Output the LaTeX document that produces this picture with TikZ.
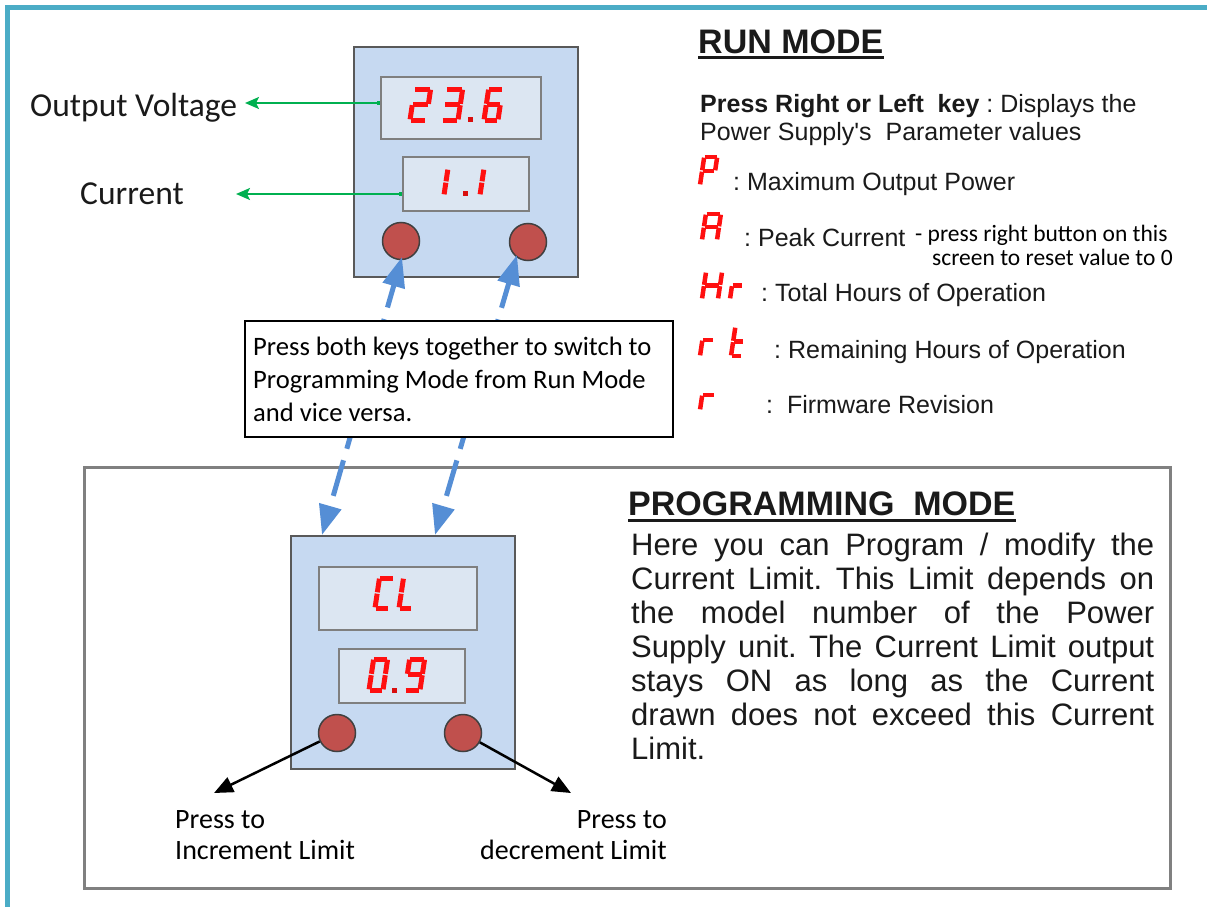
\documentclass[tikz,border=0pt]{standalone}
\usepackage{fontspec}
\usetikzlibrary{arrows.meta}
\newfontfamily\calfont{Carlito}
\newfontfamily\arialfont{Liberation Sans}
\frenchspacing
\definecolor{frameteal}{HTML}{4BACC6}
\definecolor{devfill}{HTML}{C6D9F1}
\definecolor{devdraw}{HTML}{595959}
\definecolor{dispfill}{HTML}{DCE6F2}
\definecolor{dispdraw}{HTML}{7F7F7F}
\definecolor{btnfill}{HTML}{C0504D}
\definecolor{btndraw}{HTML}{404040}
\definecolor{segred}{HTML}{FF1010}
\definecolor{arrgreen}{HTML}{00B050}
\definecolor{arrblue}{HTML}{558ED5}
\definecolor{boxgray}{HTML}{808080}
\definecolor{txt}{HTML}{1A1A1A}
\def\segslant{0.15}
\tikzset{
 seg/a/.code={\draw[segline] (sTL) -- (sTR);},
 seg/b/.code={\draw[segline] (sTR) -- (sMR);},
 seg/c/.code={\draw[segline] (sMR) -- (sBR);},
 seg/d/.code={\draw[segline] (sBL) -- (sBR);},
 seg/e/.code={\draw[segline] (sML) -- (sBL);},
 seg/f/.code={\draw[segline] (sTL) -- (sML);},
 seg/g/.code={\draw[segline] (sML) -- (sMR);},
}
% #1 x of bottom-left, #2 y of bottom, #3 width, #4 height, #5 line width, #6 segments
\newcommand\sevseg[6]{%
 \begin{scope}[shift={(#1,#2)}]
  \tikzset{segline/.style={draw=segred,line width=#5,line cap=butt,shorten <=0.7pt,shorten >=0.7pt}}
  \coordinate (sBL) at (0,0);
  \coordinate (sBR) at (#3,0);
  \coordinate (sML) at ({0.5*\segslant*#4},{-0.5*#4});
  \coordinate (sMR) at ({#3+0.5*\segslant*#4},{-0.5*#4});
  \coordinate (sTL) at ({\segslant*#4},{-#4});
  \coordinate (sTR) at ({#3+\segslant*#4},{-#4});
  \foreach \s in {#6} {\edef\segtmp{\noexpand\tikzset{seg/\s}}\segtmp}
 \end{scope}}
\newcommand\segdot[2]{\fill[segred!85!black] (#1,#2) rectangle ++(5,-5);}
\begin{document}
\begin{tikzpicture}[x=1pt,y=-1pt,
  device/.style={draw=devdraw,fill=devfill,line width=2pt,anchor=north west,inner sep=0pt},
  display/.style={draw=dispdraw,fill=dispfill,line width=1.5pt,anchor=north west,inner sep=0pt},
  button/.style={draw=btndraw,fill=btnfill,line width=1.5pt,circle,inner sep=0pt,minimum size=37pt},
  greenarrow/.style={draw=arrgreen,line width=2pt,{Square[length=3pt,width=4pt]}-{Stealth[length=14pt,width=12pt,inset=3pt]}},
  bluearrow/.style={draw=arrblue,line width=5pt,dash pattern=on 37pt off 12pt,dash phase=37pt,{Triangle[length=30pt,width=22pt]}-{Triangle[length=30pt,width=22pt]}},
  blackarrow/.style={draw=black,line width=2.5pt,-{Triangle[length=19pt,width=16pt]}},
  lbl/.style={inner sep=0pt,anchor=base west,text=txt},
  lble/.style={inner sep=0pt,anchor=base east,text=txt},
  calsz/.style={font=\calfont\fontsize{#1}{#1}\selectfont},
  arsz/.style={font=\arialfont\fontsize{#1}{#1}\selectfont},
]
\useasboundingbox (0,0) rectangle (1207,907);
\clip (0,0) rectangle (1207,907);
\fill[white] (0,0) rectangle (1207,907);
% outer frame
\draw[frameteal,line width=5pt] (7,915) -- (7,8) -- (1215,8);
% programming mode box
\node[draw=boxgray,line width=3pt,fill=white,anchor=north west,inner sep=0pt,minimum width=1086pt,minimum height=421pt] (progbox) at (83,466) {};

% ---- top device (run mode)
\node[device,minimum width=224pt,minimum height=230pt] (dev1) at (353,46) {};
\node[display,minimum width=160pt,minimum height=62pt] (disp1) at (380,76) {};
\node[display,minimum width=126pt,minimum height=54pt] (disp2) at (402,156) {};
\node[button] (b1) at (401,241) {};
\node[button] (b2) at (528,242) {};
\sevseg{410}{120}{16}{31}{5pt}{a,b,g,e,d}
\sevseg{442}{120}{16}{31}{5pt}{a,b,g,c,d}
\segdot{468}{122}
\sevseg{484}{120}{14}{31}{5pt}{a,f,g,e,d,c}
\sevseg{444}{195}{0}{26}{5pt}{b,c}
\segdot{463}{196}
\sevseg{480}{195}{0}{26}{5pt}{b,c}

% ---- lower device (programming mode)
\node[device,minimum width=224pt,minimum height=233pt] (dev2) at (290,535) {};
\node[display,minimum width=158pt,minimum height=63pt] (disp3) at (318,566) {};
\node[display,minimum width=126pt,minimum height=54pt] (disp4) at (338,648) {};
\node[button] (b3) at (337,733) {};
\node[button] (b4) at (463,733) {};
\sevseg{375}{608}{14}{30}{5pt}{a,f,e,d}
\sevseg{399}{608}{13}{30}{5pt}{f,e,d}
\sevseg{369}{690}{14}{31}{5pt}{a,b,c,d,e,f}
\segdot{392}{693}
\sevseg{405}{690}{15}{31}{5pt}{a,b,c,d,f,g}

% ---- green arrows and labels
\node[lbl,calsz=33.5] (ovl) at (30,116) {Output Voltage};
\node[lbl,calsz=33.5] (cul) at (80,204) {Current};
\coordinate (ovtip) at (245,103);
\coordinate (cutip) at (236,194);
\draw[greenarrow] (disp1.west |- ovtip) -- (ovtip);
\draw[greenarrow] (disp2.west |- cutip) -- (cutip);

% ---- blue dashed arrows between the devices
\coordinate (ltop) at (402,257);
\coordinate (lbot) at (322,535);
\coordinate (rtop) at (517,255);
\coordinate (rbot) at (435,535);
\draw[bluearrow] (lbot) -- (ltop);
\draw[bluearrow] (rbot) -- (rtop);

% ---- note box
\node[draw=black,line width=1.5pt,fill=white,anchor=north west,inner sep=0pt,minimum width=428pt,minimum height=116pt] (tbox) at (244,320) {};
\node[lbl,calsz=26.6,text=black] (tb1) at (253,355) {Press both keys together to switch to};
\node[lbl,calsz=26.6,text=black] (tb2) at (253,388) {Programming Mode from Run Mode};
\node[lbl,calsz=26.6,text=black] (tb3) at (253,421) {and vice versa.};

% ---- black arrows and labels
\coordinate (itip) at (214,793);
\coordinate (dtip) at (571,793);
\draw[blackarrow] (b3.206) -- (itip);
\draw[blackarrow] (b4.331) -- (dtip);
\node[lbl,calsz=28,text=black] (inc1) at (175,828) {Press to};
\node[lbl,calsz=28,text=black] (inc2) at (175,859) {Increment Limit};
\node[lble,calsz=28,text=black] (dec1) at (667,828) {Press to};
\node[lble,calsz=28,text=black] (dec2) at (667,859) {decrement Limit};

% ---- RUN MODE text
\node[lbl,font=\arialfont\bfseries\fontsize{34}{34}\selectfont] (rm) at (698,53) {RUN MODE};
\draw[txt,line width=3pt] ([yshift=-5pt]rm.base west) -- ([yshift=-5pt]rm.base east);
\node[lbl,arsz=25] (pr) at (700,112) {\bfseries Press Right or Left\ \ key\mdseries\ : Displays the};
\node[lbl,arsz=25] (ps) at (700,140) {Power Supply's\ \ Parameter values};
\sevseg{700}{185}{13}{28}{4.5pt}{a,b,f,g,e}
\node[lbl,arsz=25] (mp) at (733,190) {: Maximum Output Power};
\sevseg{702}{240}{15}{26}{4.5pt}{a,b,c,e,f,g}
\node[lbl,arsz=25] (pc) at (744,246) {: Peak Current};
\node[lbl,calsz=23.5,text=black] (n1) at (915,241) {- press right button on this};
\node[lbl,calsz=23.5,text=black] (n2) at (932,265) {screen to reset value to 0};
\sevseg{702}{299}{16}{27}{4.5pt}{b,c,e,f,g}
\sevseg{730}{299}{11}{27}{4.5pt}{e,g}
\node[lbl,arsz=25] (th) at (761,301) {: Total Hours of Operation};
\sevseg{700}{356}{11}{32}{4.5pt}{e,g}
\sevseg{731}{356}{11}{29}{4.5pt}{f,e,g,d}
\node[lbl,arsz=25] (rh) at (774,358) {: Remaining Hours of Operation};
\sevseg{700}{410}{12}{30}{4.5pt}{e,g}
\node[lbl,arsz=25] (fw) at (766,413) {:\ \ Firmware Revision};

% ---- PROGRAMMING MODE text
\node[lbl,font=\arialfont\bfseries\fontsize{34}{34}\selectfont] (pm) at (628,515) {PROGRAMMING\ \ MODE};
\draw[txt,line width=3pt] ([yshift=-5pt]pm.base west) -- ([yshift=-5pt]pm.base east);
\node[lbl,arsz=31] (p1) at (631,555) {\makebox[523pt][s]{Here you can Program / modify the}};
\node[lbl,arsz=31] (p2) at (631,589) {\makebox[523pt][s]{Current Limit. This Limit depends on}};
\node[lbl,arsz=31] (p3) at (631,623) {\makebox[523pt][s]{the model number of the Power}};
\node[lbl,arsz=31] (p4) at (631,657) {\makebox[523pt][s]{Supply unit. The Current Limit output}};
\node[lbl,arsz=31] (p5) at (631,691) {\makebox[523pt][s]{stays ON as long as the Current}};
\node[lbl,arsz=31] (p6) at (631,725) {\makebox[523pt][s]{drawn does not exceed this Current}};
\node[lbl,arsz=31] (p7) at (631,759) {Limit.};
\end{tikzpicture}
\end{document}
